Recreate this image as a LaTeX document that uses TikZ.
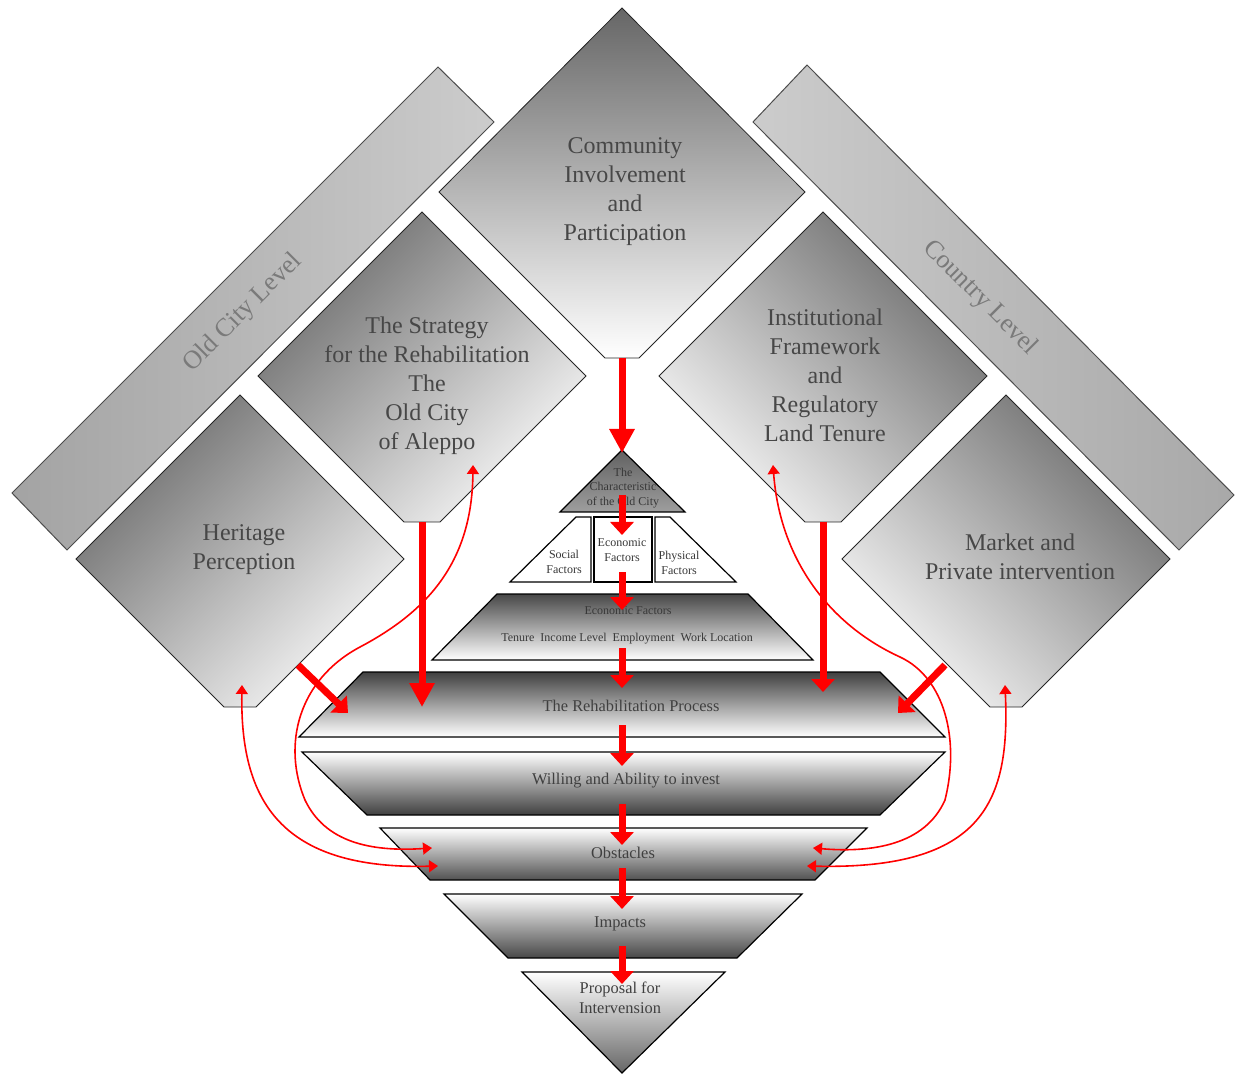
\documentclass[tikz,border=0pt]{standalone}
\usepackage{fontspec}
\setmainfont{Liberation Serif}
\usetikzlibrary{arrows.meta}

\begin{document}
\begin{tikzpicture}[
  x=0.5pt, y=-0.5pt,
  level/.style={draw=black!70, line width=0.5pt},
  box/.style={draw=black!85, line width=0.4pt},
  tier/.style={draw=black, line width=0.6pt},
  bigtext/.style={text=black!72, align=center, font=\fontsize{12}{14.5}\selectfont},
  leveltext/.style={text=black!52, font=\fontsize{13}{15}\selectfont},
  smalltext/.style={text=black!78, align=center, font=\fontsize{6}{7.2}\selectfont},
  tiertext/.style={text=black!75, align=center, font=\fontsize{8.2}{10}\selectfont},
  bigarrow/.style={draw=red, line width=3.5pt, -{Triangle[width=12pt,length=12pt]}},
  arrow/.style={draw=red, line width=3.5pt, -{Triangle[width=11.5pt,length=6.5pt]}},
  back/.style={draw=red, line width=0.8pt, {Triangle[width=6pt,length=4.5pt]}-{Triangle[width=6pt,length=4.5pt]}}
]
\useasboundingbox (0,0) rectangle (1236,1074);

\path[level, left color=black!36, right color=black!20] (438,67) -- (494,122) -- (67,550) -- (12,493) -- cycle;
\path[level, left color=black!20, right color=black!34] (807,65) -- (1234,495) -- (1179,550) -- (753,122) -- cycle;

\path[box, top color=black!60, bottom color=white] (622,8) -- (805,192) -- (639,358) -- (605,358) -- (439,192) -- cycle;
\path[box, top color=black!58, bottom color=black!3, shading angle=45] (422,212) -- (586,376) -- (440,522) -- (404,522) -- (258,376) -- cycle;
\path[box, top color=black!58, bottom color=black!3, shading angle=45] (240,395) -- (404,559) -- (256,707) -- (224,707) -- (76,559) -- cycle;
\path[box, top color=black!58, bottom color=black!3, shading angle=-45] (823,212) -- (987,376) -- (841,522) -- (805,522) -- (659,376) -- cycle;
\path[box, top color=black!58, bottom color=black!3, shading angle=-45] (1006,395) -- (1170,559) -- (1022,707) -- (990,707) -- (842,559) -- cycle;

\path[tier, top color=black!62, bottom color=black!38] (622,450) -- (685,512) -- (560,512) -- cycle;
\path[tier, fill=white] (510,582) -- (576,517) -- (591,517) -- (591,582) -- cycle;
\path[tier, fill=white] (594,517) rectangle (652,582);
\path[tier, fill=white] (655,517) -- (670,517) -- (736,582) -- (655,582) -- cycle;
\path[tier, top color=black!72, bottom color=white] (497,594) -- (748,594) -- (813,660) -- (432,660) -- cycle;
\path[tier, top color=black!75, bottom color=white] (363,672) -- (880,672) -- (945,737) -- (299,737) -- cycle;
\path[tier, top color=white, bottom color=black!75] (302,752) -- (945,752) -- (880,815) -- (367,815) -- cycle;
\path[tier, top color=white, bottom color=black!68] (380,828) -- (867,828) -- (815,880) -- (430,880) -- cycle;
\path[tier, top color=white, bottom color=black!72] (444,894) -- (802,894) -- (737,958) -- (508,958) -- cycle;
\path[tier, top color=white, bottom color=black!60] (522,972) -- (725,972) -- (622,1073) -- cycle;

\node[bigtext] (comm) at (625,192) {Community\\Involvement\\and\\Participation};
\node[bigtext] (strat) at (427,386) {The Strategy\\for the Rehabilitation\\The\\Old City\\of Aleppo};
\node[bigtext] (herit) at (244,550) {Heritage\\Perception};
\node[bigtext] (inst) at (825,375) {Institutional\\Framework\\and\\Regulatory\\Land Tenure};
\node[bigtext] (market) at (1020,557) {Market and\\Private intervention};
\node[leveltext, rotate=45] (oldcity) at (243,313) {Old City Level};
\node[leveltext, rotate=-45] (country) at (980,298) {Country Level};

\node[smalltext] (charc) at (623,488) {The\\Characteristic\\of the Old City};
\node[smalltext] (social) at (564,562) {Social\\Factors};
\node[smalltext] (econ) at (622,550) {Economic\\Factors};
\node[smalltext] (phys) at (679,563) {Physical\\Factors};
\node[smalltext] (econfac) at (628,611) {Economic Factors};
\node[smalltext] (econlist) at (627,639) {Tenure\enspace Income Level\enspace Employment\enspace Work Location};
\node[tiertext] (rehab) at (631,706) {The Rehabilitation Process};
\node[tiertext] (willing) at (626,781) {Willing and Ability to invest};
\node[tiertext] (obst) at (623,853) {Obstacles};
\node[tiertext] (impacts) at (620,924) {Impacts};
\node[tiertext] (proposal) at (620,998) {Proposal for\\Intervension};

\coordinate (comm-s) at (622,358);
\coordinate (charc-n) at (622,453);
\coordinate (charc-s) at (622,495);
\coordinate (econ-n) at (622,535);
\coordinate (econ-s) at (622,572);
\coordinate (econfac-n) at (622,610);
\coordinate (econfac-s) at (622,648);
\coordinate (rehab-n) at (622,688);
\coordinate (rehab-s) at (622,725);
\coordinate (willing-n) at (622,766);
\coordinate (willing-s) at (622,804);
\coordinate (obst-n) at (622,845);
\coordinate (obst-s) at (622,868);
\coordinate (impacts-n) at (622,909);
\coordinate (impacts-s) at (622,946);
\coordinate (proposal-n) at (622,984);
\coordinate (strat-s) at (422,522);
\coordinate (strat-to) at (422,707);
\coordinate (inst-s) at (823,522);
\coordinate (inst-to) at (823,692);
\coordinate (herit-se) at (298,665);
\coordinate (herit-to) at (348,713);
\coordinate (market-sw) at (945,665);
\coordinate (market-to) at (898,713);
\coordinate (strat-fb) at (473,465);
\coordinate (herit-fb) at (242,685);
\coordinate (inst-fb) at (773,465);
\coordinate (market-fb) at (1005,685);
\coordinate (obst-w1) at (432,848);
\coordinate (obst-w2) at (438,866);
\coordinate (obst-e1) at (813,848);
\coordinate (obst-e2) at (807,866);

\draw[bigarrow] (comm-s) -- (charc-n);
\draw[arrow] (charc-s) -- (econ-n);
\draw[arrow] (econ-s) -- (econfac-n);
\draw[arrow] (econfac-s) -- (rehab-n);
\draw[arrow] (rehab-s) -- (willing-n);
\draw[arrow] (willing-s) -- (obst-n);
\draw[arrow] (obst-s) -- (impacts-n);
\draw[arrow] (impacts-s) -- (proposal-n);
\draw[bigarrow] (strat-s) -- (strat-to);
\draw[arrow] (inst-s) -- (inst-to);
\draw[arrow] (herit-se) -- (herit-to);
\draw[arrow] (market-sw) -- (market-to);

\draw[back] (strat-fb) .. controls (472,560) and (430,610) .. (360,647)
  .. controls (298,680) and (282,745) .. (305,800)
  .. controls (325,842) and (370,852) .. (obst-w1);
\draw[back] (herit-fb) .. controls (240,800) and (280,870) .. (obst-w2);
\draw[back] (inst-fb) .. controls (780,560) and (830,625) .. (900,657)
  .. controls (945,678) and (960,740) .. (945,800)
  .. controls (925,845) and (872,853) .. (obst-e1);
\draw[back] (market-fb) .. controls (1010,800) and (985,870) .. (obst-e2);
\end{tikzpicture}
\end{document}
